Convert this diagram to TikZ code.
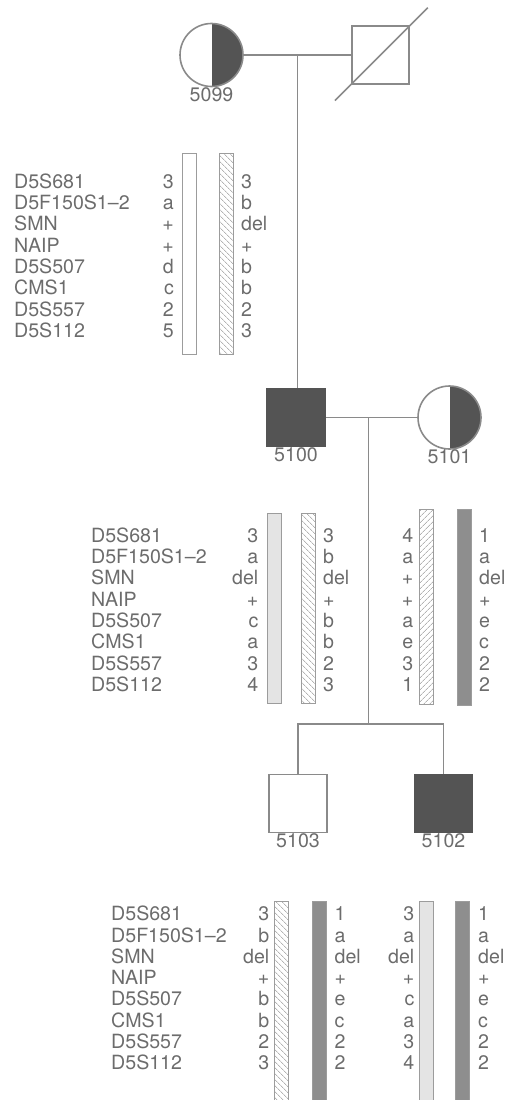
\documentclass[tikz,border=0pt]{standalone}
\usepackage{fontspec}
\setmainfont{TeX Gyre Heros}
\usetikzlibrary{
  calc,
  patterns.meta
}
\definecolor{pedLine}{HTML}{8A8A8A}
\definecolor{pedText}{HTML}{6C6C6C}
\definecolor{pedDark}{HTML}{545454}
\definecolor{hapDark}{HTML}{8E8E8E}
\definecolor{hapLight}{HTML}{E4E4E4}
\newcommand{\pedfont}{\fontsize{19.6pt}{23pt}\selectfont}
% one column of allele values, one node per marker row
\newcommand{\haplocol}[5]{%
  \foreach \al [count=\k from 0] in {#5}
    \node[allele, anchor=base #4] (#1-\k) at (#2, {#3+\k*21.3}) {\al};
}
\tikzset{
  pednode/.style={
    draw=pedLine, line width=1.6pt, inner sep=0pt, label distance=7.5pt
  },
  female/.style={pednode, circle, minimum size=63pt},
  male/.style={pednode, rectangle, minimum size=57.5pt},
  carrier/.style={female,
    path picture={\fill[pedDark] (path picture bounding box.north) rectangle (path picture bounding box.south east);}},
  affected/.style={male, fill=pedDark, draw=pedDark},
  idlabel/.style={font=\pedfont, text=pedText, inner sep=0pt},
  pedline/.style={draw=pedLine, line width=1.3pt},
  allele/.style={font=\pedfont, text=pedText, inner sep=0pt},
  hapbar/.style={draw=pedLine!85, line width=0.8pt, minimum width=14pt, inner sep=0pt},
  hapwhite/.style={hapbar, fill=white},
  haplight/.style={hapbar, fill=hapLight},
  hapdark/.style={hapbar, fill=hapDark},
  hapback/.style={hapbar, pattern={Lines[angle=-45, distance=4pt, line width=0.6pt]}, pattern color=pedLine},
  hapfwd/.style={hapbar, pattern={Lines[angle=45, distance=4pt, line width=0.6pt]}, pattern color=pedLine}
}
\begin{document}
\begin{tikzpicture}[x=1pt, y=-1pt]
  \useasboundingbox (0,0) rectangle (508,1100);

  % generation I
  \node[carrier, label={[idlabel]below:5099}] (p5099) at (211.5,55) {};
  \node[male] (pgf) at (380.5,55) {};
  \draw[pedline, line width=1.6pt] ($(pgf.south west)!-0.27!(pgf.north east)$) -- ($(pgf.south west)!1.3!(pgf.north east)$);
  \draw[pedline] (p5099) -- (pgf);
  \coordinate (m1) at ($(p5099.east)!0.5!(pgf.west)$);

  \node[hapwhite, minimum height=201pt] (h1a) at (189.5,253.5) {};
  \node[hapback, minimum height=201pt] (h1b) at (226,253.5) {};
  \haplocol{mk1}{14}{188.2}{west}{D5S681,D5F150S1--2,SMN,NAIP,D5S507,CMS1,D5S557,D5S112}
  \haplocol{a1a}{174}{188.2}{east}{3,a,+,+,d,c,2,5}
  \haplocol{a1b}{241}{188.2}{west}{3,b,del,+,b,b,2,3}

  % generation II
  \node[affected, minimum size=58pt, label={[idlabel]below:5100}] (p5100) at (296,417.5) {};
  \node[carrier, label={[idlabel]below:5101}] (p5101) at (449.5,417.5) {};
  \draw[pedline] (m1) -- (m1 |- p5100.north);
  \draw[pedline] (p5100) -- (p5101);
  \coordinate (m2) at ($(p5100.east)!0.47!(p5101.west)$);

  \node[haplight, minimum height=190pt] (h2a) at (274,608) {};
  \node[hapback, minimum height=190pt] (h2b) at (308.5,608) {};
  \node[hapfwd, minimum height=195pt] (h2c) at (426,606.5) {};
  \node[hapdark, minimum height=196pt] (h2d) at (464.5,607) {};
  \haplocol{mk2}{91}{542.3}{west}{D5S681,D5F150S1--2,SMN,NAIP,D5S507,CMS1,D5S557,D5S112}
  \haplocol{a2a}{258.5}{542.3}{east}{3,a,del,+,c,a,3,4}
  \haplocol{a2b}{323}{542.3}{west}{3,b,del,+,b,b,2,3}
  \haplocol{a2c}{413.5}{542.3}{east}{4,a,+,+,a,e,3,1}
  \haplocol{a2d}{479}{542.3}{west}{1,a,del,+,e,c,2,2}

  % generation III
  \node[male, minimum size=58pt, label={[idlabel]below:5103}] (p5103) at (298,803.5) {};
  \node[affected, minimum size=58pt, label={[idlabel]below:5102}] (p5102) at (443.5,803.5) {};
  \draw[pedline] (m2) -- ++(0,306.5) coordinate (s2);
  \draw[pedline] (p5103.north) |- (s2) -| (p5102.north);

  \node[hapback, minimum height=209pt] (h3a) at (281,1005.5) {};
  \node[hapdark, minimum height=209pt] (h3b) at (319,1005.5) {};
  \node[haplight, minimum height=209pt] (h3c) at (426,1005.5) {};
  \node[hapdark, minimum height=209pt] (h3d) at (462.5,1005.5) {};
  \haplocol{mk3}{111}{920.7}{west}{D5S681,D5F150S1--2,SMN,NAIP,D5S507,CMS1,D5S557,D5S112}
  \haplocol{a3a}{269.5}{920.7}{east}{3,b,del,+,b,b,2,3}
  \haplocol{a3b}{334.5}{920.7}{west}{1,a,del,+,e,c,2,2}
  \haplocol{a3c}{414.5}{920.7}{east}{3,a,del,+,c,a,3,4}
  \haplocol{a3d}{478}{920.7}{west}{1,a,del,+,e,c,2,2}
\end{tikzpicture}
\end{document}
